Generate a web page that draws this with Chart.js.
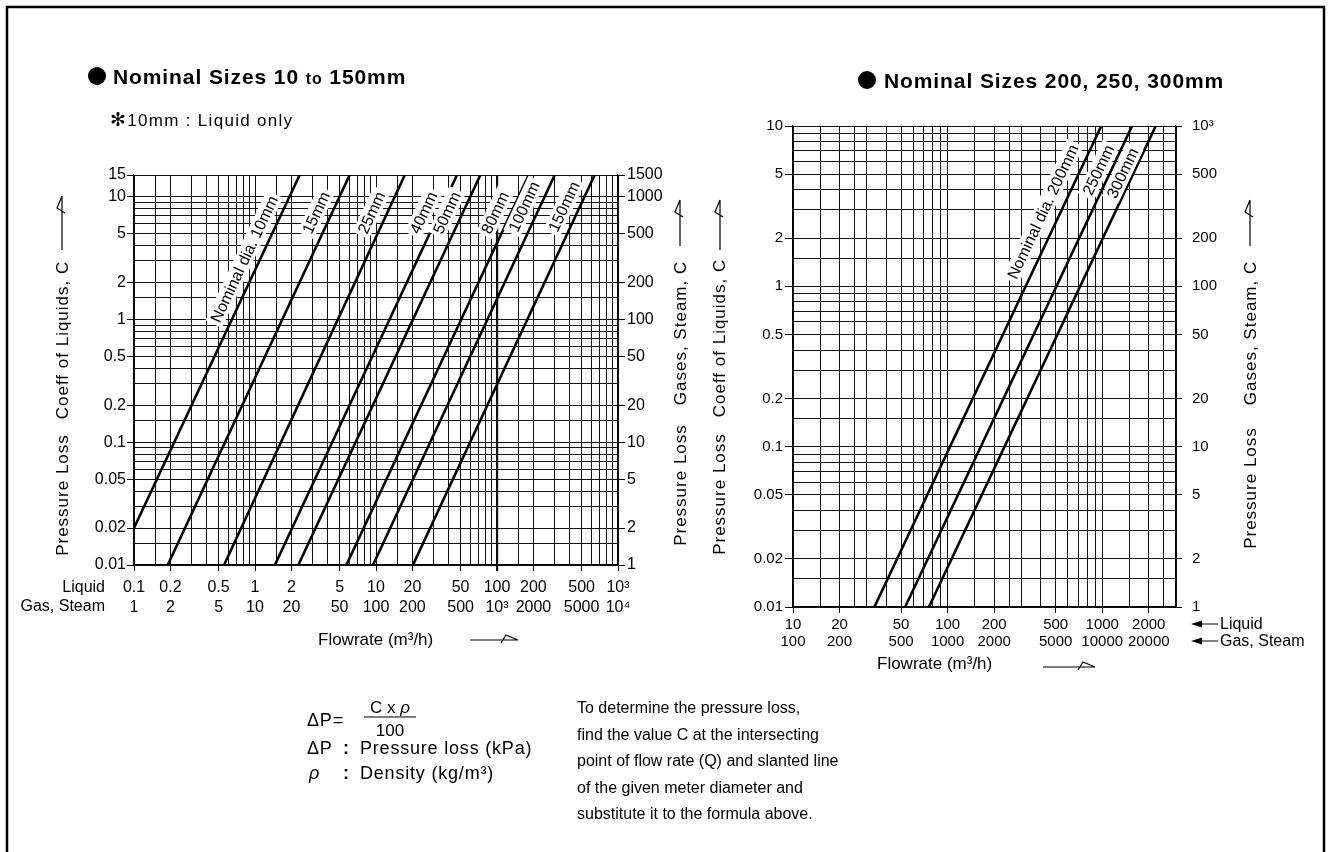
<!DOCTYPE html>
<html>
<head>
<meta charset="utf-8">
<script src="https://cdn.jsdelivr.net/npm/chart.js@4.4.1/dist/chart.umd.min.js"></script>
<style>
body{margin:0;background:#fff;width:1332px;height:852px;overflow:hidden;position:relative;font-family:"Liberation Sans",Arial,Helvetica,sans-serif;color:#000}
canvas{position:absolute}
.t{position:absolute;white-space:nowrap;line-height:1;font-size:16px}
.f{position:absolute;white-space:nowrap;line-height:1;font-size:18px;letter-spacing:0.8px}
.v{position:absolute;white-space:nowrap;transform:translate(-50%,-50%) rotate(-90deg);font-size:17px;letter-spacing:1px;line-height:1}
.ttl{position:absolute;white-space:nowrap;line-height:1;font-size:21px;font-weight:bold;letter-spacing:0.9px}
.ttl small{font-size:16px}
.dot{position:absolute;width:18px;height:18px;border-radius:50%;background:#000}
</style>
</head>
<body>
<svg width="1332" height="852" style="position:absolute;left:0;top:0" fill="none" stroke="#000">
  <path d="M7,852 V7 H1324 V852" stroke-width="2.5"/>
  <g stroke-width="1.2">
    <!-- flowrate arrows -->
    <path d="M470,640 H518 M501,643 L506,635 L518,640"/>
    <path d="M1043,667 H1095 M1078,670 L1083,662 L1095,667"/>
    <!-- vertical axis arrows -->
    <path d="M62,250 V196 M65,213 L57,208 L62,196"/>
    <path d="M680,246 V200 M683,217 L675,212 L680,200"/>
    <path d="M720,250 V200 M723,217 L715,212 L720,200"/>
    <path d="M1250,246 V200 M1253,217 L1245,212 L1250,200"/>
    <!-- liquid / gas pointers -->
    <path d="M1200,624 H1218 M1200,641 H1218"/>
    <path d="M364,717 H416"/>
  </g>
  <path d="M1191,624 L1202,620.5 L1202,627.5 Z M1191,641 L1202,637.5 L1202,644.5 Z" fill="#000" stroke="none"/>
</svg>

<canvas id="left" width="700" height="700" style="left:0;top:0"></canvas>
<canvas id="right" width="632" height="700" style="left:700px;top:0"></canvas>

<div class="dot" style="left:88px;top:67px"></div>
<div class="ttl" style="left:113px;top:66px">Nominal Sizes 10 <small>to</small> 150mm</div>
<div class="t" style="left:110px;top:110px;font-size:17px;letter-spacing:1.3px"><span style="font-size:19px">✻</span>10mm : Liquid only</div>
<div class="dot" style="left:858px;top:71px"></div>
<div class="ttl" style="left:884px;top:70px">Nominal Sizes 200, 250, 300mm</div>

<div class="v" style="left:62px;top:495px">Pressure Loss</div>
<div class="v" style="left:62px;top:340px">Coeff of Liquids, C</div>
<div class="v" style="left:680px;top:485px">Pressure Loss</div>
<div class="v" style="left:680px;top:333px">Gases, Steam, C</div>
<div class="v" style="left:719px;top:494px">Pressure Loss</div>
<div class="v" style="left:719px;top:338px">Coeff of Liquids, C</div>
<div class="v" style="left:1250px;top:488px">Pressure Loss</div>
<div class="v" style="left:1250px;top:333px">Gases, Steam, C</div>

<div class="t" style="right:1227px;top:579px">Liquid</div>
<div class="t" style="right:1227px;top:598px">Gas, Steam</div>
<div class="t" style="left:318px;top:631px;font-size:17px">Flowrate (m³/h)</div>
<div class="t" style="left:1220px;top:616px">Liquid</div>
<div class="t" style="left:1220px;top:633px">Gas, Steam</div>
<div class="t" style="left:877px;top:655px;font-size:17px">Flowrate (m³/h)</div>

<div class="f" style="left:307px;top:711px">ΔP=</div>
<div class="t" style="left:364px;top:699px;width:52px;text-align:center;font-size:17px">C x <i>ρ</i></div>
<div class="t" style="left:364px;top:722px;width:52px;text-align:center;font-size:17px">100</div>
<div class="f" style="left:307px;top:739px">ΔP</div>
<div class="f" style="left:343px;top:739px;font-weight:bold">:</div>
<div class="f" style="left:360px;top:739px">Pressure loss (kPa)</div>
<div class="f" style="left:309px;top:764px"><i>ρ</i></div>
<div class="f" style="left:343px;top:764px;font-weight:bold">:</div>
<div class="f" style="left:360px;top:764px">Density (kg/m³)</div>

<div class="t" style="left:577px;top:695px;line-height:26.5px">To determine the pressure loss,<br>find the value C at the intersecting<br>point of flow rate (Q) and slanted line<br>of the given meter diameter and<br>substitute it to the formula above.</div>

<script>
// ---- left chart: nominal sizes 10 to 150mm ----
const leftSizes = ['Nominal dia. 10mm', '15mm', '25mm', '40mm', '50mm', '80mm', '100mm', '150mm'];
// liquid flowrate (m3/h) at the two ends of each slanted line
const leftQ = [[0.1, 2.34], [0.19, 6.06], [0.555, 17.3], [1.46, 46.7], [2.28, 72.9], [5.69, 183], [9.45, 300], [20.2, 641]];
// coefficient C at the same ends
const leftC = [[0.02, 15], [0.01, 15], [0.01, 15], [0.01, 15], [0.01, 15], [0.01, 15], [0.01, 15], [0.01, 15]];

const leftXGrid = [0.1, 0.15, 0.2, 0.3, 0.4, 0.5, 0.6, 0.7, 0.8, 0.9, 1, 1.5, 2, 3, 4, 5, 6, 7, 8, 9,
  10, 15, 20, 30, 40, 50, 60, 70, 80, 90, 100, 150, 200, 300, 400, 500, 600, 700, 800, 900, 1000];
const leftXTicks = [0.1, 0.2, 0.5, 1, 2, 5, 10, 20, 50, 100, 200, 500, 1000];
const leftXLiquid = ['0.1', '0.2', '0.5', '1', '2', '5', '10', '20', '50', '100', '200', '500', '10³'];
const leftXGas = ['1', '2', '5', '10', '20', '50', '100', '200', '500', '10³', '2000', '5000', '10⁴'];

const leftYGrid = [0.01, 0.015, 0.02, 0.03, 0.04, 0.05, 0.06, 0.07, 0.08, 0.09, 0.1, 0.15, 0.2, 0.3, 0.4, 0.5, 0.6, 0.7, 0.8, 0.9,
  1, 1.5, 2, 3, 4, 5, 6, 7, 8, 9, 10, 15];
const leftYTicks = [0.01, 0.02, 0.05, 0.1, 0.2, 0.5, 1, 2, 5, 10, 15];
const leftYLabels = ['0.01', '0.02', '0.05', '0.1', '0.2', '0.5', '1', '2', '5', '10', '15'];
const leftY2Ticks = [1, 2, 5, 10, 20, 50, 100, 200, 500, 1000, 1500];
const leftY2Labels = ['1', '2', '5', '10', '20', '50', '100', '200', '500', '1000', '1500'];

// ---- right chart: nominal sizes 200, 250, 300mm ----
const rightSizes = ['Nominal dia. 200mm', '250mm', '300mm'];
const rightQ = [[33.6, 986], [53.1, 1560], [75.7, 2219]];
const rightC = [[0.01, 10], [0.01, 10], [0.01, 10]];

const rightXGrid = [10, 15, 20, 25, 30, 40, 50, 60, 70, 80, 90, 100, 150, 200, 250, 300, 400, 500, 600, 700, 800, 900,
  1000, 1500, 2000, 2500, 3000];
const rightXTicks = [10, 20, 50, 100, 200, 500, 1000, 2000];
const rightXLiquid = ['10', '20', '50', '100', '200', '500', '1000', '2000'];
const rightXGas = ['100', '200', '500', '1000', '2000', '5000', '10000', '20000'];

const rightYGrid = [0.01, 0.015, 0.02, 0.03, 0.04, 0.05, 0.06, 0.07, 0.08, 0.09, 0.1, 0.15, 0.2, 0.3, 0.4, 0.5, 0.6, 0.7, 0.8, 0.9,
  1, 1.5, 2, 3, 4, 5, 6, 7, 8, 9, 10];
const rightYTicks = [0.01, 0.02, 0.05, 0.1, 0.2, 0.5, 1, 2, 5, 10];
const rightYLabels = ['0.01', '0.02', '0.05', '0.1', '0.2', '0.5', '1', '2', '5', '10'];
const rightY2Ticks = [1, 2, 5, 10, 20, 50, 100, 200, 500, 1000];
const rightY2Labels = ['1', '2', '5', '10', '20', '50', '100', '200', '500', '10³'];

const FONT = '"Liberation Sans", Arial, Helvetica, sans-serif';

// slanted size labels drawn along each line, white box behind
const lineLabels = {
  id: 'lineLabels',
  afterDatasetsDraw(chart, args, opts) {
    const ctx = chart.ctx, xs = chart.scales.x, ys = chart.scales.y;
    chart.data.datasets.forEach((ds, i) => {
      const a = ds.data[0], b = ds.data[ds.data.length - 1];
      const x1 = xs.getPixelForValue(a.x), y1 = ys.getPixelForValue(a.y);
      const x2 = xs.getPixelForValue(b.x), y2 = ys.getPixelForValue(b.y);
      const py = ys.getPixelForValue(opts.at[i]);
      const px = x1 + (py - y1) / (y2 - y1) * (x2 - x1) - opts.shift[i];
      ctx.save();
      ctx.translate(px, py);
      ctx.rotate(Math.atan2(y2 - y1, x2 - x1));
      ctx.font = '16px ' + FONT;
      const w = ctx.measureText(ds.label).width;
      ctx.fillStyle = '#fff';
      ctx.fillRect(-w / 2 - 3, -9, w + 6, 18);
      ctx.fillStyle = '#000';
      ctx.textAlign = 'center';
      ctx.textBaseline = 'middle';
      ctx.fillText(ds.label, 0, 1);
      ctx.restore();
    });
  }
};

function makeChart(id, cfg) {
  const datasets = cfg.sizes.map((s, i) => ({
    label: s,
    data: cfg.q[i].map((q, j) => ({ x: q, y: cfg.c[i][j] })),
    borderColor: '#000',
    borderWidth: 2.6,
    pointRadius: 0,
    tension: 0
  }));
  const isTick = (list) => (c) => (c.tick && list.includes(c.tick.value)) ? '#000' : 'rgba(0,0,0,0)';
  return new Chart(document.getElementById(id), {
    type: 'line',
    data: { datasets },
    plugins: [lineLabels],
    options: {
      responsive: false,
      animation: false,
      devicePixelRatio: 1,
      layout: { padding: cfg.pad },
      plugins: {
        legend: { display: false },
        tooltip: { enabled: false },
        lineLabels: { at: cfg.labelAt, shift: cfg.labelShift }
      },
      scales: {
        x: {
          type: 'logarithmic', min: cfg.xGrid[0], max: cfg.xGrid[cfg.xGrid.length - 1],
          afterBuildTicks: s => { s.ticks = cfg.xGrid.map(v => ({ value: v })); },
          afterFit: s => { s.height = 60; },
          ticks: {
            autoSkip: false, maxRotation: 0, minRotation: 0, color: '#000', padding: cfg.xPad,
            font: { family: FONT, size: cfg.fs, lineHeight: cfg.xLH },
            callback: v => {
              const k = cfg.xTicks.indexOf(v);
              return k < 0 ? '' : [cfg.xLiquid[k], cfg.xGas[k]];
            }
          },
          grid: {
            color: '#111',
            lineWidth: c => (c.tick && c.tick.value === cfg.heavyX) ? 2.2 : 1,
            tickLength: 6,
            tickColor: isTick(cfg.xTicks)
          },
          border: { color: '#000', width: 1.2 }
        },
        y: {
          type: 'logarithmic', position: 'left', min: cfg.yGrid[0], max: cfg.yGrid[cfg.yGrid.length - 1],
          afterBuildTicks: s => { s.ticks = cfg.yGrid.map(v => ({ value: v })); },
          afterFit: s => { s.width = 50; },
          ticks: {
            autoSkip: false, color: '#000', padding: cfg.yPad,
            font: { family: FONT, size: cfg.fs },
            callback: v => {
              const k = cfg.yTicks.indexOf(v);
              return k < 0 ? '' : cfg.yLabels[k];
            }
          },
          grid: { color: '#111', lineWidth: 1, tickLength: cfg.yTL, tickColor: isTick(cfg.yTicks) },
          border: { color: '#000', width: 1.2 }
        },
        y2: {
          type: 'logarithmic', position: 'right', min: cfg.y2Ticks[0], max: cfg.y2Ticks[cfg.y2Ticks.length - 1],
          afterBuildTicks: s => { s.ticks = cfg.y2Ticks.map(v => ({ value: v })); },
          afterFit: s => { s.width = 60; },
          ticks: {
            autoSkip: false, color: '#000', padding: cfg.y2Pad,
            font: { family: FONT, size: cfg.fs },
            callback: v => {
              const k = cfg.y2Ticks.indexOf(v);
              return k < 0 ? '' : cfg.y2Labels[k];
            }
          },
          grid: { drawOnChartArea: false, tickLength: cfg.y2TL, color: '#000' },
          border: { color: '#000', width: 1.2 }
        }
      }
    }
  });
}

makeChart('left', {
  sizes: leftSizes, q: leftQ, c: leftC,
  xGrid: leftXGrid, xTicks: leftXTicks, xLiquid: leftXLiquid, xGas: leftXGas,
  yGrid: leftYGrid, yTicks: leftYTicks, yLabels: leftYLabels,
  y2Ticks: leftY2Ticks, y2Labels: leftY2Labels,
  heavyX: 100, fs: 16, xLH: 1.22, xPad: 7, yPad: 1, yTL: 7, y2Pad: 2, y2TL: 7,
  pad: { left: 84, right: 22, top: 175, bottom: 75 },
  labelAt: [3.1, 7.4, 7.4, 7.4, 7.4, 7.4, 8.3, 8.3],
  labelShift: [16, 16, 16, 16, 16, 16, 16, 16]
});

makeChart('right', {
  sizes: rightSizes, q: rightQ, c: rightC,
  xGrid: rightXGrid, xTicks: rightXTicks, xLiquid: rightXLiquid, xGas: rightXGas,
  yGrid: rightYGrid, yTicks: rightYTicks, yLabels: rightYLabels,
  y2Ticks: rightY2Ticks, y2Labels: rightY2Labels,
  heavyX: null, fs: 15, xLH: 1.1, xPad: 4, yPad: 2, yTL: 8, y2Pad: 10, y2TL: 6,
  pad: { left: 43, right: 96, top: 126, bottom: 33 },
  labelAt: [2.92, 5.31, 5.09],
  labelShift: [18, 13, 11]
});
</script>
</body>
</html>
